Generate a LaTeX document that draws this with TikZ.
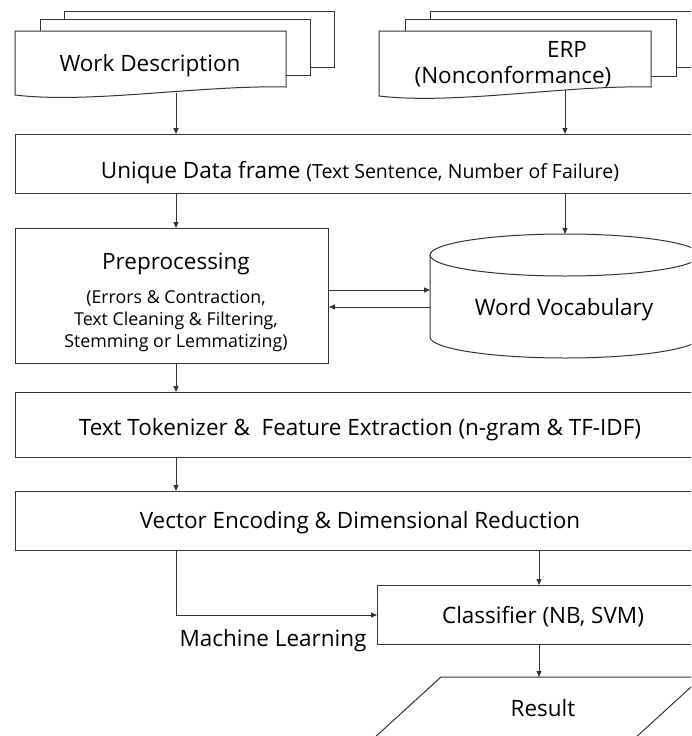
\documentclass[tikz,border=0pt]{standalone}
\usepackage{fontspec}
\setmainfont{Open Sans}
\usetikzlibrary{arrows.meta}

\tikzset{
  box/.style={draw=black!80, line width=1pt, fill=white, rectangle, inner sep=0pt, anchor=north west},
  line/.style={draw=black!80, line width=1pt},
  arr/.style={line, -{Triangle[length=6pt,width=5pt]}},
  txt/.style={font=\fontsize{22.5}{27}\selectfont, anchor=base, inner sep=0pt},
  small/.style={font=\fontsize{17.8}{22}\selectfont, anchor=base, inner sep=0pt}
}

\begin{document}
\begin{tikzpicture}[x=1pt,y=1pt,yscale=-1,xscale=1]
\useasboundingbox (0,0) rectangle (691,736);
\clip (0,0) rectangle (691,736);

%Shape: Document stack (Work Description)
\draw[line, fill=white] (64,19) -- (64,11) -- (334,11) -- (334,67) -- (310,67) ;
\draw[line, fill=white] (40,31) -- (40,19) -- (310,19) -- (310,75) -- (286,75) ;
\draw[line, fill=white] (15,31) -- (286,31) -- (286,87) .. controls (200,85) and (90,104) .. (15,95) -- cycle ;
%Shape: Document stack (ERP)
\draw[line, fill=white] (430,19) -- (430,11) -- (701,11) -- (701,67) -- (676,67) ;
\draw[line, fill=white] (405,31) -- (405,19) -- (676,19) -- (676,76) -- (651,76) ;
\draw[line, fill=white] (379,31) -- (651,31) -- (651,87) .. controls (565,85) and (455,105) .. (379,96) -- cycle ;
\coordinate (wdout) at (176,93);
\coordinate (erpout) at (565,90);

%Shape: Rectangles
\node[box, minimum width=705, minimum height=59] (frame) at (15,134) {};
\node[box, minimum width=313, minimum height=135] (prep) at (15,228) {};
\node[box, minimum width=705, minimum height=65] (token) at (15,392) {};
\node[box, minimum width=705, minimum height=59] (vector) at (15,491) {};
\node[box, minimum width=343, minimum height=59] (classify) at (377,585) {};

%Shape: Cylinder (Word Vocabulary)
\draw[line, fill=white] (430,255) -- (430,337) arc[start angle=180, end angle=0, x radius=135, y radius=21] -- (700,255) ;
\draw[line, fill=white] (565,255) ellipse [x radius=135, y radius=21] ;
\coordinate (voctop) at (565,234);
\coordinate (vocin) at (430,290);
\coordinate (vocout) at (430,307);

%Shape: Parallelogram (Result)
\draw[line, fill=white] (441,677) -- (702,677) -- (611,760) -- (350,760) -- cycle ;
\coordinate (restop) at (539,677);

% Text Node
\node[txt] (wdtext) at (150,71) {Work Description};
\node[txt] (erptext) at (567,57) {ERP};
\node[txt] (nctext) at (513,83) {(Nonconformance)};
\node[txt] (frametext) at (360,178) {Unique Data frame {\fontsize{19.5}{23}\selectfont(Text Sentence, Number of Failure)}};
\node[txt] (preptext) at (176,269) {Preprocessing};
\node[small] (prepsub1) at (176,303) {(Errors \& Contraction,};
\node[small] (prepsub2) at (176,325) {Text Cleaning \& Filtering,};
\node[small] (prepsub3) at (176,347) {Stemming or Lemmatizing)};
\node[txt] (voctext) at (564,315) {Word Vocabulary};
\node[txt] (tokentext) at (360,435) {Text Tokenizer \&\ \ Feature Extraction (n-gram \& TF-IDF)};
\node[txt] (vectortext) at (360,528) {Vector Encoding \& Dimensional Reduction};
\node[txt] (classifytext) at (543,623) {Classifier (NB, SVM)};
\node[txt] (mltext) at (273,646) {Machine Learning};
\node[txt] (restext) at (543,716) {Result};

%Connectors
\draw[arr] (wdout) -- (wdout |- frame.north);
\draw[arr] (erpout) -- (erpout |- frame.north);
\draw[arr] (wdout |- frame.south) -- (wdout |- prep.north);
\draw[arr] (erpout |- frame.south) -- (voctop);
\draw[arr] (prep.east |- vocin) -- (vocin);
\draw[arr] (vocout) -- (prep.east |- vocout);
\draw[arr] (wdout |- prep.south) -- (wdout |- token.north);
\draw[arr] (wdout |- token.south) -- (wdout |- vector.north);
\draw[arr] (wdout |- vector.south) |- (classify.west);
\draw[arr] (restop |- vector.south) -- (restop |- classify.north);
\draw[arr] (restop |- classify.south) -- (restop);

\end{tikzpicture}
\end{document}
